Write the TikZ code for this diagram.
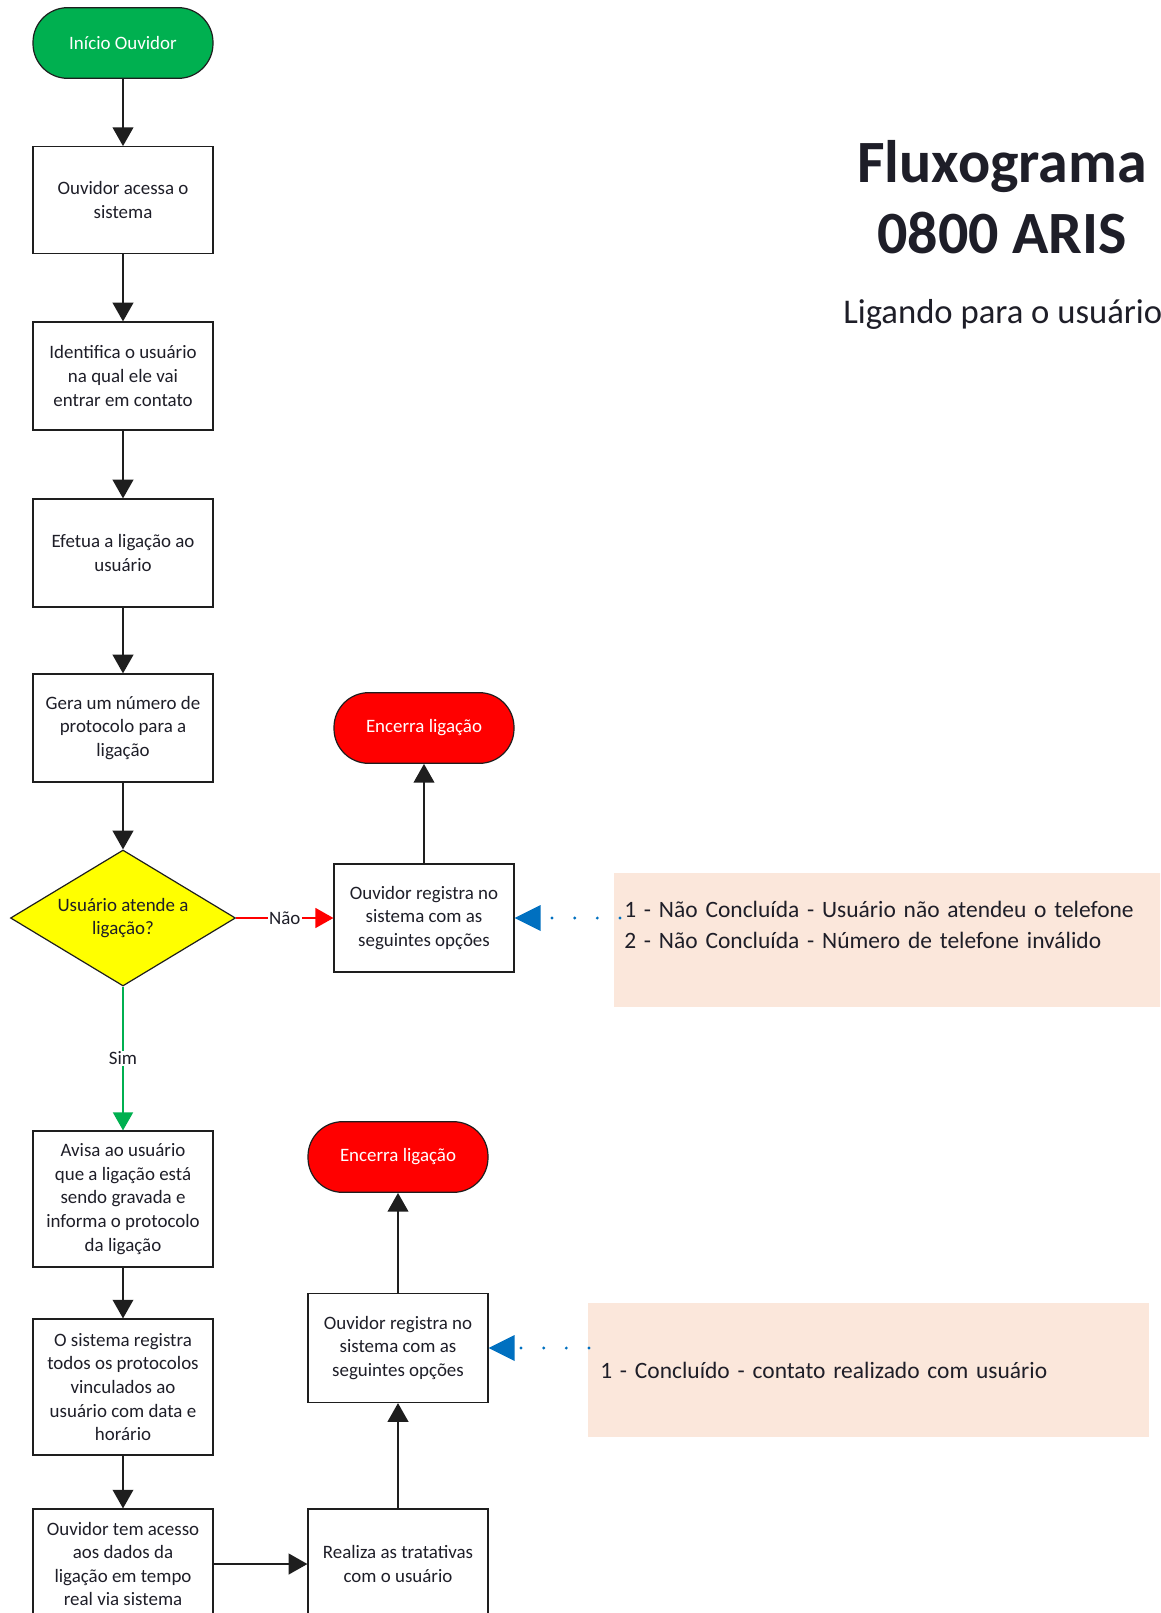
\documentclass[tikz,border=0pt]{standalone}
\usepackage{fontspec}
\setmainfont{Carlito}
\usetikzlibrary{arrows.meta,shapes.geometric}
\definecolor{cgreen}{RGB}{0,176,80}
\definecolor{cred}{RGB}{255,0,0}
\definecolor{cyellow}{RGB}{255,255,0}
\definecolor{cpeach}{RGB}{251,231,219}
\definecolor{cblue}{RGB}{0,112,192}
\definecolor{cline}{RGB}{30,30,30}
\definecolor{ctext}{RGB}{30,30,40}
\begin{document}
\begin{tikzpicture}[x=0.75pt,y=-0.75pt,
  boxtext/.style={font=\fontsize{14.2pt}{17.7pt}\selectfont, text=ctext, align=center},
  procbox/.style={boxtext, draw=cline, line width=0.9pt, fill=white, minimum width=135pt, inner sep=2pt},
  term/.style={boxtext, text=white, draw=cline, line width=0.9pt, minimum width=135pt, minimum height=53pt, rounded corners=26pt},
  decision/.style={boxtext, shape=diamond, aspect=1.65, draw=cline, line width=0.9pt, fill=cyellow, minimum width=168.75pt, minimum height=102pt, inner sep=0pt},
  flow/.style={draw=cline, line width=1.3pt, -{Triangle[length=14pt,width=15.5pt]}},
  redflow/.style={draw=cred, line width=1pt, -{Triangle[length=13.5pt,width=15pt]}},
  greenflow/.style={draw=cgreen, line width=1.3pt, -{Triangle[length=13.5pt,width=15pt]}},
  edgelabel/.style={boxtext, fill=white, inner sep=1pt},
  notebox/.style={fill=cpeach, font=\fontsize{17.6pt}{23.2pt}\selectfont, text=ctext, align=left, anchor=north west, minimum height=100.5pt},
  dotline/.style={draw=cblue, line width=2.4pt, line cap=round, dash pattern=on 0pt off 17pt, -{Triangle[length=19.5pt,width=19.5pt,line width=0pt]}},
]
\useasboundingbox (0,0) rectangle (1160,1613);
\clip (0,0) rectangle (1160,1613);
\fill[white] (0,0) rectangle (1160,1613);

% title
\node[font=\bfseries\fontsize{45pt}{53pt}\selectfont, anchor=base, text=ctext, inner sep=0pt] (t1) at (1002,182) {Fluxograma};
\node[font=\bfseries\fontsize{45pt}{53pt}\selectfont, anchor=base, text=ctext, inner sep=0pt] (t2) at (1002,253) {0800 ARIS};
\node[font=\fontsize{26pt}{31pt}\selectfont, anchor=base west, text=ctext, inner sep=0pt] (t3) at (843,323) {Ligando para o usuário};

% notes
\node[notebox, text width=450pt, inner xsep=7.5pt] (n1) at (614,873)
  {1 - Não Concluída - Usuário não atendeu o telefone\\2 - Não Concluída - Número de telefone inválido\\\mbox{}};
\node[notebox, minimum width=420.75pt, text width=402.75pt, inner xsep=9pt] (n2) at (588,1303)
  {1 - Concluído - contato realizado com usuário};

% left column
\node[term, fill=cgreen] (start) at (123,43) {Início Ouvidor};
\node[procbox, minimum height=80pt] (b1) at (123,200) {Ouvidor acessa o\\sistema};
\node[procbox, minimum height=81pt] (b2) at (123,376) {Identifica o usuário\\na qual ele vai\\entrar em contato};
\node[procbox, minimum height=81pt] (b3) at (123,553) {Efetua a ligação ao\\usuário};
\node[procbox, minimum height=81pt] (b4) at (123,728) {Gera um número de\\protocolo para a\\ligação};
\node[decision] (d) at (123,918) {Usuário atende a\\ligação?};
\node[procbox, minimum height=102pt] (b5) at (123,1199) {Avisa ao usuário\\que a ligação está\\sendo gravada e\\informa o protocolo\\da ligação};
\node[procbox, minimum height=102pt] (b6) at (123,1387) {O sistema registra\\todos os protocolos\\vinculados ao\\usuário com data e\\horário};
\node[procbox, minimum height=82.5pt] (b7) at (123,1564) {Ouvidor tem acesso\\aos dados da\\ligação em tempo\\real via sistema};

% right column
\node[term, fill=cred] (e1) at (424,728) {Encerra ligação};
\node[procbox, minimum height=81pt] (r1) at (424,918) {Ouvidor registra no\\sistema com as\\seguintes opções};
\node[term, fill=cred] (e2) at (398,1157) {Encerra ligação};
\node[procbox, minimum height=81.75pt] (r2) at (398,1348) {Ouvidor registra no\\sistema com as\\seguintes opções};
\node[procbox, minimum height=82.5pt] (b8) at (398,1564) {Realiza as tratativas\\com o usuário};

% connectors
\draw[flow] (start) -- (b1);
\draw[flow] (b1) -- (b2);
\draw[flow] (b2) -- (b3);
\draw[flow] (b3) -- (b4);
\draw[flow] (b4) -- (d);
\draw[redflow] (d.east) -- node[edgelabel] {Não} (r1.west);
\draw[greenflow] (d.south) -- node[edgelabel] {Sim} (b5.north);
\draw[flow] (r1) -- (e1);
\draw[flow] (b5) -- (b6);
\draw[flow] (b6) -- (b7);
\draw[flow] (b7) -- (b8);
\draw[flow] (b8) -- (r2);
\draw[flow] (r2) -- (e2);

\coordinate (p1) at (620,918);
\coordinate (p2) at (589,1348);
\draw[dotline] (p1) -- (r1.east);
\draw[dotline] (p2) -- (r2.east);
\end{tikzpicture}
\end{document}
